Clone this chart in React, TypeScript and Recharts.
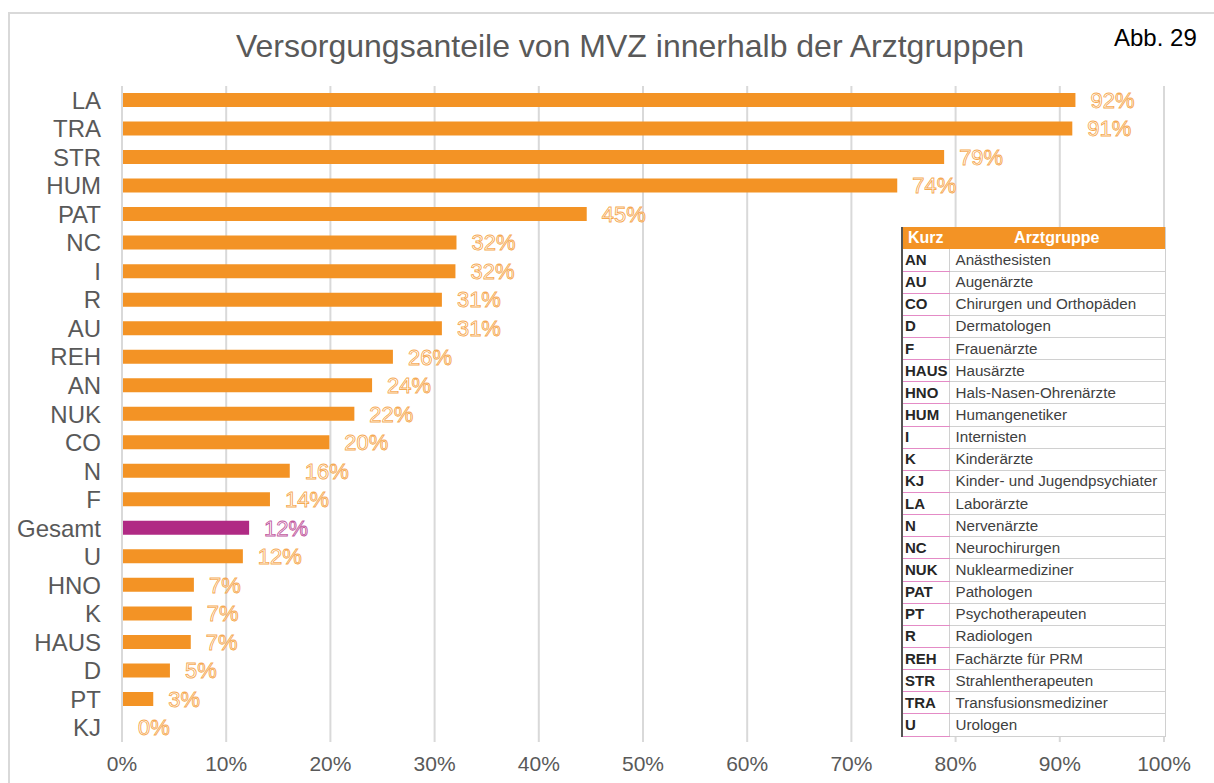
import { Bar, BarChart, CartesianGrid, Cell, LabelList, XAxis, YAxis } from 'recharts'

// Arztgruppen (Kürzel) in Reihenfolge der Grafik
const groups = [
  'LA', 'TRA', 'STR', 'HUM', 'PAT', 'NC', 'I', 'R', 'AU', 'REH', 'AN', 'NUK',
  'CO', 'N', 'F', 'Gesamt', 'U', 'HNO', 'K', 'HAUS', 'D', 'PT', 'KJ',
]

// MVZ-Versorgungsanteil je Arztgruppe
const shares = [
  0.915, 0.912, 0.789, 0.744, 0.446, 0.321, 0.32, 0.307, 0.307, 0.26, 0.24, 0.223,
  0.199, 0.161, 0.142, 0.122, 0.116, 0.069, 0.067, 0.066, 0.046, 0.03, 0.0,
]

const xTicks = [0, 0.1, 0.2, 0.3, 0.4, 0.5, 0.6, 0.7, 0.8, 0.9, 1]

// Legende: Kürzel und Arztgruppe
const legendCodes = [
  'AN', 'AU', 'CO', 'D', 'F', 'HAUS', 'HNO', 'HUM', 'I', 'K', 'KJ',
  'LA', 'N', 'NC', 'NUK', 'PAT', 'PT', 'R', 'REH', 'STR', 'TRA', 'U',
]
const legendNames = [
  'Anästhesisten', 'Augenärzte', 'Chirurgen und Orthopäden', 'Dermatologen',
  'Frauenärzte', 'Hausärzte', 'Hals-Nasen-Ohrenärzte', 'Humangenetiker',
  'Internisten', 'Kinderärzte', 'Kinder- und Jugendpsychiater', 'Laborärzte',
  'Nervenärzte', 'Neurochirurgen', 'Nuklearmediziner', 'Pathologen',
  'Psychotherapeuten', 'Radiologen', 'Fachärzte für PRM', 'Strahlentherapeuten',
  'Transfusionsmediziner', 'Urologen',
]

const ORANGE = '#F39325'
const PURPLE = '#B02A84'
const FONT = '"Liberation Sans", Arial, sans-serif'

const data = groups.map((g, i) => ({ group: g, value: shares[i] }))

const pct = (v: number) => `${Math.round(v * 100)}%`

function OutlinedLabel(props: any) {
  const { x, y, width, height, value, index } = props
  const stroke = groups[index] === 'Gesamt' ? PURPLE : ORANGE
  return (
    <text
      x={x + width + 15}
      y={y + height / 2 + 2}
      dominantBaseline="middle"
      fontFamily={FONT}
      fontSize={22}
      fill="#fff"
      stroke={stroke}
      strokeWidth={0.9}
      strokeOpacity={0.8}
    >
      {pct(value)}
    </text>
  )
}

export default function App() {
  return (
    <div
      style={{
        position: 'absolute',
        left: 0,
        top: 0,
        width: 1214,
        height: 783,
        background: '#fff',
        overflow: 'hidden',
        fontFamily: FONT,
      }}
    >
      <div
        style={{
          position: 'absolute',
          left: 8,
          top: 12,
          width: 1300,
          height: 900,
          borderLeft: '2px solid #D9D9D9',
          borderTop: '2px solid #D9D9D9',
        }}
      />
      <div
        style={{
          position: 'absolute',
          left: 0,
          width: 1260,
          top: 27,
          textAlign: 'center',
          fontSize: 32,
          lineHeight: '38px',
          color: '#595959',
        }}
      >
        Versorgungsanteile von MVZ innerhalb der Arztgruppen
      </div>
      <div style={{ position: 'absolute', left: 1114, top: 24, fontSize: 24, lineHeight: '28px', color: '#000' }}>
        Abb. 29
      </div>
      <div style={{ position: 'absolute', left: 0, top: 0 }}>
        <BarChart
          width={1214}
          height={783}
          data={data}
          layout="vertical"
          margin={{ top: 86, right: 50, bottom: 0, left: 0 }}
          barCategoryGap={0}
        >
          <CartesianGrid horizontal={false} stroke="#D9D9D9" strokeWidth={2} />
          <XAxis
            type="number"
            domain={[0, 1]}
            ticks={xTicks}
            tickFormatter={pct}
            axisLine={false}
            tickLine={false}
            tickSize={0}
            tickMargin={14}
            height={41}
            tick={{ fontSize: 21, fill: '#595959', fontFamily: FONT }}
          />
          <YAxis
            type="category"
            dataKey="group"
            width={122}
            axisLine={{ stroke: '#D9D9D9', strokeWidth: 2 }}
            tickLine={false}
            tickSize={0}
            tickMargin={21}
            interval={0}
            tick={{ fontSize: 24, fill: '#595959', fontFamily: FONT }}
          />
          <Bar dataKey="value" barSize={14} minPointSize={1} isAnimationActive={false}>
            {data.map((d, i) => (
              <Cell
                key={i}
                fill={d.value === 0 ? 'transparent' : d.group === 'Gesamt' ? PURPLE : ORANGE}
              />
            ))}
            <LabelList dataKey="value" content={<OutlinedLabel />} />
          </Bar>
        </BarChart>
      </div>
      <table
        style={{
          position: 'absolute',
          left: 901,
          top: 227,
          width: 263,
          borderCollapse: 'collapse',
          background: '#fff',
          fontFamily: FONT,
          fontSize: 15,
          borderLeft: '2px solid #555',
          borderRight: '1px solid #D0D0D0',
          tableLayout: 'fixed',
        }}
      >
        <colgroup>
          <col style={{ width: 47 }} />
          <col style={{ width: 216 }} />
        </colgroup>
        <thead>
          <tr style={{ height: 22, background: ORANGE, color: '#fff', fontWeight: 'bold' }}>
            <th style={{ padding: '0 0 0 5px', textAlign: 'left', fontSize: 16, lineHeight: '20px' }}>Kurz</th>
            <th style={{ padding: 0, textAlign: 'center', fontSize: 16, lineHeight: '20px' }}>Arztgruppe</th>
          </tr>
        </thead>
        <tbody>
          {legendCodes.map((c, i) => (
            <tr key={c} style={{ height: 22.15 }}>
              <td
                style={{
                  padding: '0 0 0 2px',
                  fontWeight: 'bold',
                  color: '#262626',
                  borderBottom: '1px solid #E48BC6',
                  borderRight: '1px solid #D0D0D0',
                  lineHeight: '20px',
                  whiteSpace: 'nowrap',
                }}
              >
                {c}
              </td>
              <td
                style={{
                  padding: '0 0 0 6px',
                  color: '#404040',
                  borderBottom: '1px solid #D0D0D0',
                  whiteSpace: 'nowrap',
                  fontSize: 15.2,
                  lineHeight: '20px',
                }}
              >
                {legendNames[i]}
              </td>
            </tr>
          ))}
        </tbody>
      </table>
    </div>
  )
}
